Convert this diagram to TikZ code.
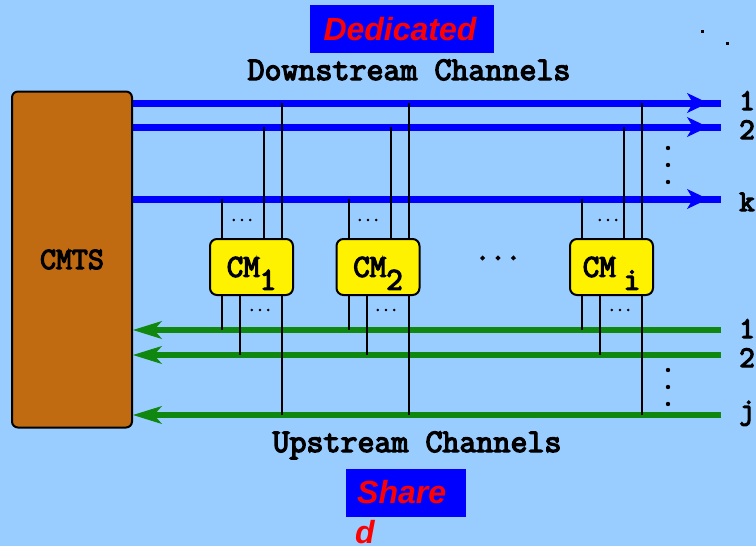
\documentclass[tikz,border=0pt]{standalone}
\usepackage{fontspec}
\newfontfamily\tagfamily{Liberation Sans}
\newfontfamily\monofam{Latin Modern Mono}[FakeBold=4]
\usetikzlibrary{arrows.meta,decorations.markings}
\definecolor{bg}{RGB}{153,204,255}
\definecolor{cmtsbrown}{RGB}{192,106,18}
\definecolor{upgreen}{RGB}{16,136,16}
\newcommand{\monob}[1]{\fontsize{#1}{#1}\selectfont\monofam}
\begin{document}
\begin{tikzpicture}[x=1pt,y=-1pt,
  cmtsbox/.style={draw=black, line width=2pt, fill=cmtsbrown, rounded corners=6pt,
    minimum width=120pt, minimum height=336pt, inner sep=0pt, font=\monob{31}},
  cmbox/.style={draw=black, line width=2pt, fill=yellow, rounded corners=7pt,
    minimum width=83pt, minimum height=56pt, inner sep=0pt, font=\monob{32}},
  downch/.style={blue, line width=7pt, postaction={decorate},
    decoration={markings, mark=at position -13pt with
      {\arrow{Stealth[length=21pt,width=20pt,inset=6pt,line width=1pt]}}}},
  upch/.style={upgreen, line width=5.5pt,
    -{Stealth[length=29pt,width=18pt,inset=8pt,line width=1pt]}},
  wire/.style={black, line width=2pt},
  tagbox/.style={fill=blue, minimum width=184pt, minimum height=48pt, inner sep=0pt},
  tagtext/.style={red, inner sep=0pt, font=\fontsize{32}{36}\selectfont\tagfamily\bfseries\itshape},
  lab/.style={inner sep=0pt, font=\monob{33}},
  num/.style={inner sep=0pt, font=\monob{30}},
  smalldots/.style={inner sep=0pt, font=\monob{16}},
  bigdots/.style={inner sep=0pt, font=\monob{30}},
  dot/.style={fill=black, draw=none}
]
\useasboundingbox (0,0) rectangle (756,546);
\fill[bg] (0,0) rectangle (756,546);

% tags
\node[tagbox] (dedbox) at (402,29) {};
\node[tagtext, anchor=base] (ded) at (400,41) {Dedicated};
\node[tagbox, minimum width=120pt] (sharebox) at (406,493) {};
\node[tagtext, anchor=base west] (share) at (357,503) {Share};
\node[tagtext, anchor=base west] (shared) at (355,543) {d};

% stray dots top right
\fill[dot] (700.5,29.5) rectangle (703.5,32.5);
\fill[dot] (725.5,41.5) rectangle (728.5,44.5);

% titles
\node[lab, anchor=base] (dtitle) at (409,80) {Downstream Channels};
\node[lab, anchor=base] (utitle) at (417,452) {Upstream Channels};

% CMTS
\node[cmtsbox] (cmts) at (72,259.5) {\raisebox{-4pt}{CMTS}};

% channel end points
\coordinate (dn1) at (721,103);
\coordinate (dn2) at (721,127);
\coordinate (dnk) at (721,199);
\coordinate (up1) at (721,330);
\coordinate (up2) at (721,355);
\coordinate (upj) at (721,415);

\draw[downch] (cmts.east |- dn1) -- (dn1);
\draw[downch] (cmts.east |- dn2) -- (dn2);
\draw[downch] (cmts.east |- dnk) -- (dnk);
\draw[upch] (up1) -- (cmts.east |- up1);
\draw[upch] (up2) -- (cmts.east |- up2);
\draw[upch] (upj) -- (cmts.east |- upj);

% channel numbers
\node[num, anchor=base] (n1) at (747,110) {1};
\node[num, anchor=base] (n2) at (747,139) {2};
\node[num, anchor=base] (nk) at (747,211) {k};
\node[num, anchor=base] (m1) at (747,338) {1};
\node[num, anchor=base] (m2) at (747,367) {2};
\node[num, anchor=base] (mj) at (747,419) {j};

% vertical dots
\foreach \yy in {148,165,182,370,387,404}{
  \fill[dot] (668,\yy) circle (2.2pt);
}

% cable modems
\node[cmbox] (cm1) at (251.5,267) {CM\raisebox{-13pt}[0pt][0pt]{1}};
\node[cmbox] (cm2) at (378,267) {CM\raisebox{-13pt}[0pt][0pt]{2}};
\node[cmbox] (cmi) at (611.5,267) {CM\hspace{8pt}\raisebox{-13pt}[0pt][0pt]{i}};

\node[bigdots] (middots) at (498,258) {...};

\node[smalldots] (cm1td) at (242,220) {...};
\node[smalldots] (cm2td) at (368,220) {...};
\node[smalldots] (cmitd) at (608,220) {...};
\node[smalldots] (cm1bd) at (260,310) {...};
\node[smalldots] (cm2bd) at (386,310) {...};
\node[smalldots] (cmibd) at (620,310) {...};

\foreach \c in {cm1,cm2,cmi}{
  \coordinate (\c-t1) at ([xshift=13pt]\c.north west);
  \coordinate (\c-t2) at ([xshift=55pt]\c.north west);
  \coordinate (\c-t3) at ([xshift=73pt]\c.north west);
  \coordinate (\c-b1) at ([xshift=13pt]\c.south west);
  \coordinate (\c-b2) at ([xshift=31pt]\c.south west);
  \coordinate (\c-b3) at ([xshift=73pt]\c.south west);
  \draw[wire] (\c-t1) -- (\c-t1 |- dnk);
  \draw[wire] (\c-t2) -- (\c-t2 |- dn2);
  \draw[wire] (\c-t3) -- (\c-t3 |- dn1);
  \draw[wire] (\c-b1) -- (\c-b1 |- up1);
  \draw[wire] (\c-b2) -- (\c-b2 |- up2);
  \draw[wire] (\c-b3) -- (\c-b3 |- upj);
}
\end{tikzpicture}
\end{document}
